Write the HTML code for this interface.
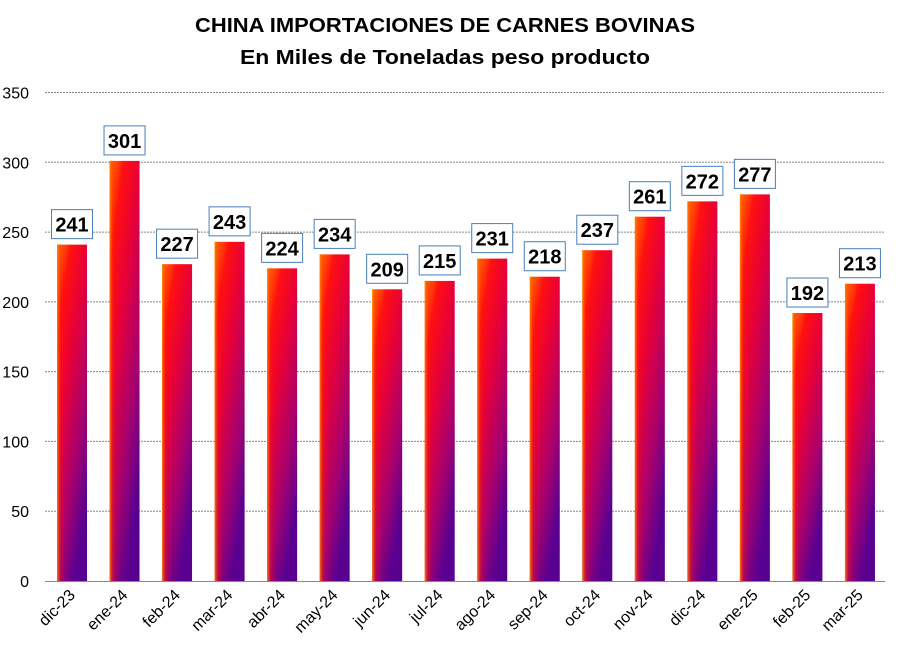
<!DOCTYPE html>
<html><head><meta charset="utf-8"><style>
html,body{margin:0;padding:0;background:#fff;width:901px;height:657px;overflow:hidden}
svg{display:block;font-family:"Liberation Sans",Arial,sans-serif}
</style></head><body>
<svg id="c" width="901" height="657" viewBox="0 0 901 657" xmlns="http://www.w3.org/2000/svg">
<defs>
<linearGradient id="g" x1="0" y1="0" x2="0.55" y2="1">
<stop offset="0" stop-color="#ff8a00"/>
<stop offset="0.2" stop-color="#ff1010"/>
<stop offset="0.45" stop-color="#e6003a"/>
<stop offset="0.75" stop-color="#a8006e"/>
<stop offset="1" stop-color="#5a0090"/>
</linearGradient>
<linearGradient id="h" x1="0" y1="0" x2="1" y2="0">
<stop offset="0" stop-color="#ff8a00" stop-opacity="0.9"/>
<stop offset="0.12" stop-color="#ff2000" stop-opacity="0.3"/>
<stop offset="0.3" stop-color="#ff0000" stop-opacity="0"/>
</linearGradient>
</defs>
<text x="445" y="32" font-size="20" font-weight="bold" text-anchor="middle" textLength="500" lengthAdjust="spacingAndGlyphs">CHINA IMPORTACIONES DE CARNES BOVINAS</text>
<text x="445" y="64" font-size="20" font-weight="bold" text-anchor="middle" textLength="410" lengthAdjust="spacingAndGlyphs">En Miles de Toneladas peso producto</text>
<g id="grid"></g>
<g id="bars"></g>
</svg>
<script>
var vals=[241,301,227,243,224,234,209,215,231,218,237,261,272,277,192,213];
var labs=["dic-23","ene-24","feb-24","mar-24","abr-24","may-24","jun-24","jul-24","ago-24","sep-24","oct-24","nov-24","dic-24","ene-25","feb-25","mar-25"];
var y0=581,k=1.3957,s="";
for(var v=0;v<=350;v+=50){var y=y0-v*k;
 if(v>0)s+='<line x1="45" x2="885" y1="'+y.toFixed(1)+'" y2="'+y.toFixed(1)+'" stroke="#888" stroke-dasharray="2,1" stroke-width="1"/>';
 s+='<text x="29" y="'+(y+6).toFixed(1)+'" font-size="16" text-anchor="end">'+v+'</text>';}
s+='<line x1="45" x2="885" y1="581.5" y2="581.5" stroke="#888" stroke-width="1"/>';
document.getElementById('grid').innerHTML=s;
var b="";
for(var i=0;i<16;i++){var cx=72+i*52.53,h=vals[i]*k,t=y0-h;
 b+='<rect x="'+(cx-15)+'" y="'+t+'" width="30" height="'+h+'" fill="url(#g)"/>';
 b+='<rect x="'+(cx-15)+'" y="'+t+'" width="30" height="'+h+'" fill="url(#h)"/>';
 b+='<rect x="'+(cx-20.5)+'" y="'+(t-35)+'" width="41" height="29" fill="#fff" stroke="#4a7ebb" stroke-width="1"/>';
 b+='<text x="'+cx+'" y="'+(t-13)+'" font-size="20" font-weight="bold" text-anchor="middle">'+vals[i]+'</text>';
 b+='<text transform="translate('+(cx+4)+',596) rotate(-45)" font-size="16" text-anchor="end">'+labs[i]+'</text>';}
document.getElementById('bars').innerHTML=b;
</script>
</body></html>
